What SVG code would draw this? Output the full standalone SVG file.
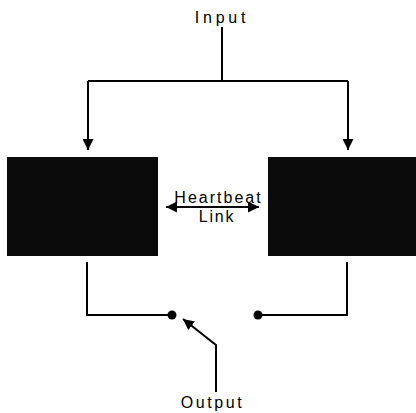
<svg xmlns="http://www.w3.org/2000/svg" width="416" height="413" viewBox="0 0 416 413">
<defs>
<style>
.ln{fill:none;stroke:#000;stroke-width:2}
.box{fill:#0b0b0b}
.t{font-family:"Liberation Sans",Arial,sans-serif;font-size:16px;fill:#000}
</style>
<marker id="ah" viewBox="0 0 10 10" refX="10" refY="5" markerWidth="5.5" markerHeight="5.5" orient="auto-start-reverse" markerUnits="strokeWidth">
<path d="M0,0 L10,5 L0,10 z" fill="#000"/>
</marker>
</defs>
<rect width="416" height="413" fill="#fff"/>
<g id="input"><text class="t" x="222" y="22.5" text-anchor="middle" letter-spacing="3.8">Input</text></g>
<g id="box-left"><rect class="box" x="7" y="157" width="151" height="99"/></g>
<g id="box-right"><rect class="box" x="268" y="157" width="148" height="99"/></g>
<g id="heartbeat"><text class="t" x="218.5" y="203" text-anchor="middle" font-size="14" letter-spacing="2">Heartbeat</text><text class="t" x="217" y="222" text-anchor="middle" font-size="14" letter-spacing="1.8">Link</text></g>
<g id="output"><text class="t" x="212.5" y="408" text-anchor="middle" letter-spacing="2.6">Output</text></g>
<g id="connectors">
<path class="ln" d="M222,27 V81"/>
<path class="ln" d="M88,81 H348"/>
<path class="ln" d="M88,81 V150" marker-end="url(#ah)"/>
<path class="ln" d="M348,81 V150" marker-end="url(#ah)"/>
<path class="ln" d="M166,207 H259" marker-start="url(#ah)" marker-end="url(#ah)"/>
<path class="ln" d="M87,262 V315 H172"/>
<circle cx="172" cy="315" r="4.5" fill="#000"/>
<path class="ln" d="M347,262 V315 H258"/>
<circle cx="258" cy="315" r="4.5" fill="#000"/>
<path class="ln" d="M216,392 V345 L183,319" marker-end="url(#ah)"/>
</g>
</svg>
